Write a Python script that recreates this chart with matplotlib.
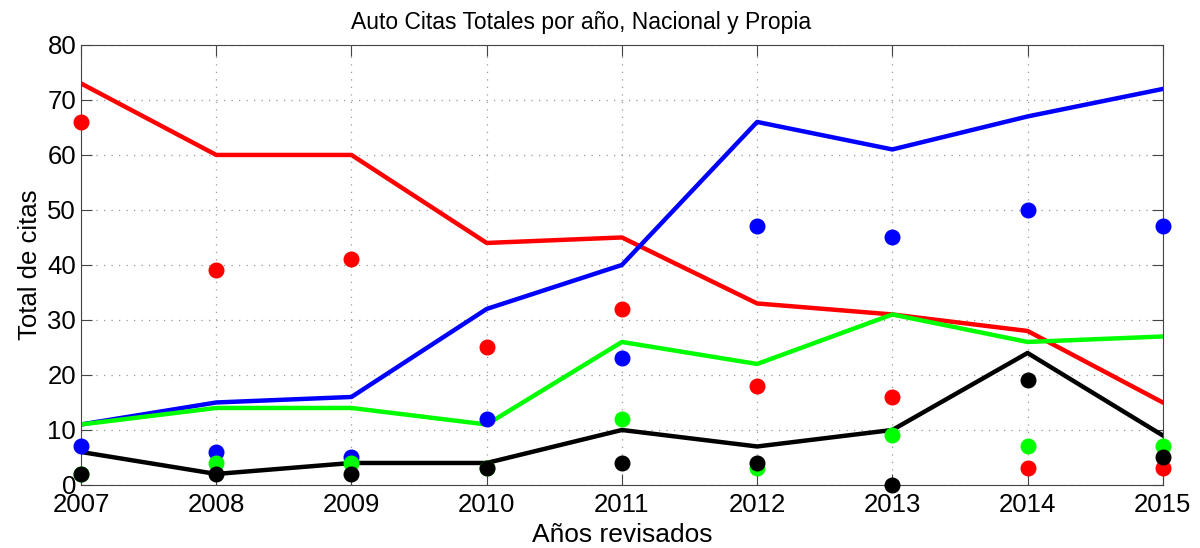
import matplotlib
matplotlib.use("Agg")
import matplotlib.pyplot as plt

plt.rcParams['font.family'] = ['Liberation Sans', 'DejaVu Sans']

years = [2007, 2008, 2009, 2010, 2011, 2012, 2013, 2014, 2015]

# lines (totals)
red_line = [73, 60, 60, 44, 45, 33, 31, 28, 15]
blue_line = [11, 15, 16, 32, 40, 66, 61, 67, 72]
green_line = [11, 14, 14, 11, 26, 22, 31, 26, 27]
black_line = [6, 2, 4, 4, 10, 7, 10, 24, 9]

# dots
red_pts = [66, 39, 41, 25, 32, 18, 16, 3, 3]
blue_pts = [7, 6, 5, 12, 23, 47, 45, 50, 47]
green_pts = [2, 4, 4, 3, 12, 3, 9, 7, 7]
black_pts = [2, 2, 2, 3, 4, 4, 0, 19, 5]

fig = plt.figure(figsize=(12, 5.48), dpi=100)
ax = fig.add_axes([0.0675, 0.115, 0.9015, 0.803])

ax.plot(years, red_line, color='#ff0000', lw=3.2)
ax.plot(years, blue_line, color='#0000ff', lw=3.2)
ax.plot(years, green_line, color='#00ff00', lw=3.2)
ax.plot(years, black_line, color='#000000', lw=3.2)

ax.plot(years, red_pts, 'o', color='#ff0000', ms=10.5, clip_on=False, zorder=5)
ax.plot(years, blue_pts, 'o', color='#0000ff', ms=10.5, clip_on=False, zorder=5)
ax.plot(years, green_pts, 'o', color='#00ff00', ms=10.5, clip_on=False, zorder=5)
ax.plot(years, black_pts, 'o', color='#000000', ms=10.5, clip_on=False, zorder=5)

ax.set_xlim(2007, 2015)
ax.set_ylim(0, 80)
ax.set_xticks(years)
ax.set_yticks(range(0, 81, 10))
ax.grid(True, linestyle=(0, (1, 5)), color='#999999', lw=0.9)
ax.tick_params(direction='in', top=True, right=True, labelsize=18.5, length=8, color='#444444')
ax.tick_params(axis='x', pad=6)
for s in ax.spines.values():
    s.set_color('#444444')

fig.text(581 / 1200, 1 - 22 / 548, 'Auto Citas Totales por año, Nacional y Propia',
         fontsize=16.5, ha='center', va='center')
ax.set_xlabel('Años revisados', fontsize=19, labelpad=4)
ax.set_ylabel('Total de citas', fontsize=18.5, labelpad=4)

fig.savefig('out.png', dpi=100)
